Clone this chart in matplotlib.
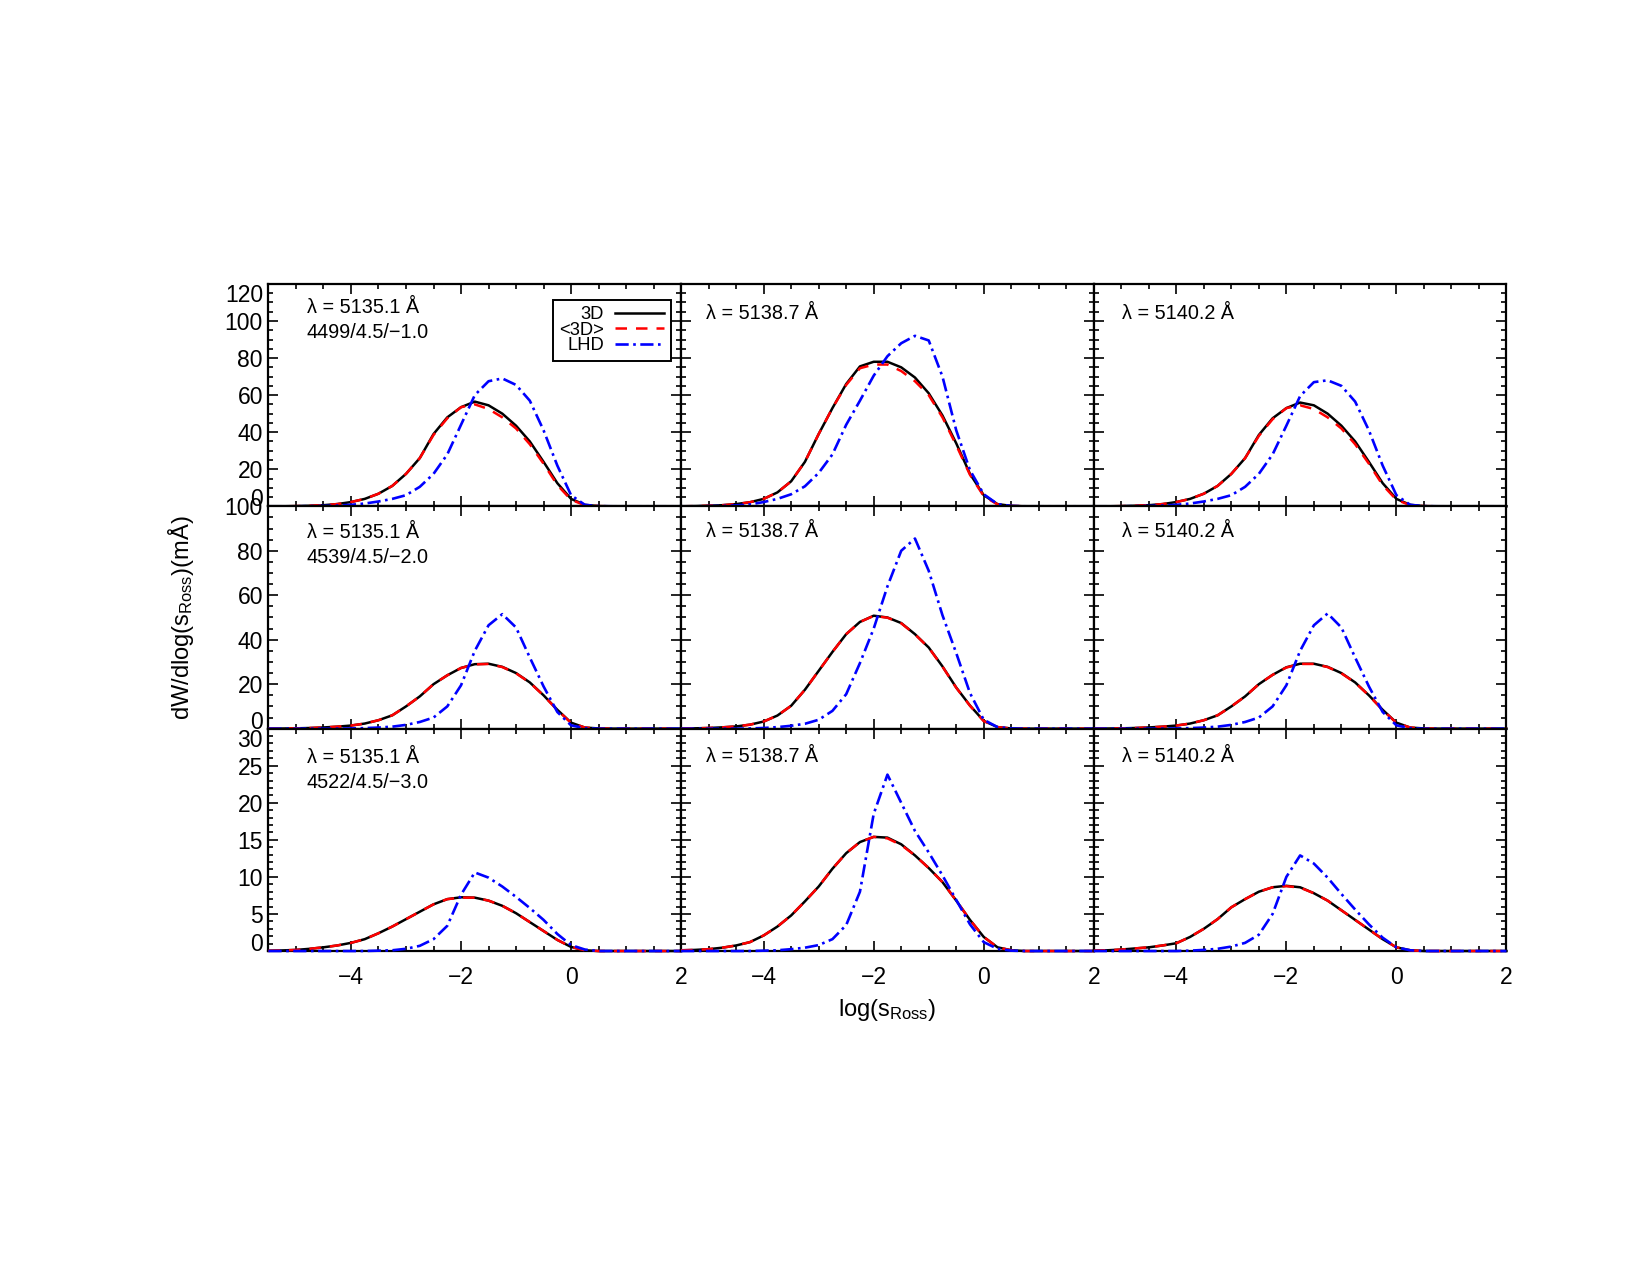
import numpy as np
import matplotlib
matplotlib.use("Agg")
import matplotlib.pyplot as plt
from matplotlib.ticker import MultipleLocator

# x grid: log(tau_Ross), sampled every 0.25
log_tau = np.linspace(-5.5, 2.0, 31)

# ---- row 1 : 4499/4.5/-1.0 ----
d3_r0c0 = [0, 0, 0.1, 0.3, 0.6, 1.2, 2.3, 4.0, 6.8, 11.0, 17.5, 26.0, 39.0, 48.0, 53.5, 56.5,
           54.5, 50.0, 43.5, 35.0, 24.0, 12.5, 4.0, 0.8, 0.1, 0, 0, 0, 0, 0, 0]
avg_r0c0 = [0, 0, 0.1, 0.3, 0.6, 1.2, 2.3, 4.0, 6.8, 11.0, 17.5, 26.0, 38.5, 47.5, 53.5, 55.0,
            52.5, 48.0, 42.0, 33.5, 23.0, 11.5, 3.5, 0.6, 0.1, 0, 0, 0, 0, 0, 0]
lhd_r0c0 = [0, 0, 0, 0.1, 0.2, 0.4, 0.8, 1.5, 2.6, 4.0, 6.0, 10.5, 17.5, 28.0, 44.0, 60.0,
            67.5, 69.0, 65.5, 57.0, 41.0, 22.0, 6.0, 0.8, 0.1, 0, 0, 0, 0, 0, 0]

d3_r0c1 = [0, 0.1, 0.3, 0.6, 1.2, 2.2, 4.0, 7.5, 13.5, 24.0, 39.0, 53.0, 66.0, 75.5, 78.0, 78.0,
           75.0, 69.5, 61.0, 49.0, 34.0, 17.5, 6.0, 1.2, 0.2, 0, 0, 0, 0, 0, 0]
avg_r0c1 = [0, 0.1, 0.3, 0.6, 1.2, 2.2, 4.0, 7.5, 13.5, 24.0, 39.0, 53.0, 65.5, 74.5, 76.5, 76.5,
            73.0, 67.5, 60.0, 48.0, 33.0, 17.0, 5.5, 1.0, 0.2, 0, 0, 0, 0, 0, 0]
lhd_r0c1 = [0, 0, 0.1, 0.2, 0.5, 1.0, 2.3, 4.0, 6.5, 10.8, 18.0, 28.0, 44.0, 57.0, 70.5, 81.0,
            88.0, 92.0, 89.5, 70.0, 41.0, 19.5, 6.5, 1.2, 0.2, 0, 0, 0, 0, 0, 0]

d3_r0c2 = [0, 0, 0.1, 0.3, 0.6, 1.2, 2.3, 4.0, 6.8, 11.0, 17.5, 26.0, 38.5, 47.5, 53.0, 56.0,
           54.5, 50.0, 43.5, 35.0, 24.0, 12.5, 4.0, 0.8, 0.1, 0, 0, 0, 0, 0, 0]
avg_r0c2 = [0, 0, 0.1, 0.3, 0.6, 1.2, 2.3, 4.0, 6.8, 11.0, 17.5, 26.0, 38.0, 47.0, 53.0, 54.5,
            52.5, 48.0, 42.0, 33.5, 23.0, 11.5, 3.5, 0.6, 0.1, 0, 0, 0, 0, 0, 0]
lhd_r0c2 = [0, 0, 0, 0.1, 0.2, 0.4, 0.8, 1.5, 2.6, 4.0, 6.0, 10.5, 17.5, 28.0, 43.5, 59.5,
            67.0, 68.0, 65.0, 56.5, 41.0, 22.0, 6.0, 0.8, 0.1, 0, 0, 0, 0, 0, 0]

# ---- row 2 : 4539/4.5/-2.0 ----
d3_r1c0 = [0, 0.05, 0.15, 0.3, 0.55, 0.9, 1.4, 2.3, 3.8, 6.0, 10.0, 14.5, 20.0, 24.0, 27.3, 29.0,
           29.2, 27.8, 25.0, 20.8, 15.0, 8.5, 2.7, 0.5, 0.1, 0, 0, 0, 0, 0, 0]
avg_r1c0 = [0, 0.05, 0.15, 0.3, 0.55, 0.9, 1.4, 2.3, 3.8, 6.0, 10.0, 14.5, 20.0, 24.0, 27.3, 28.9,
            29.1, 27.7, 24.9, 20.7, 14.9, 8.4, 2.6, 0.5, 0.1, 0, 0, 0, 0, 0, 0]
lhd_r1c0 = [0, 0, 0, 0, 0, 0.05, 0.1, 0.25, 0.5, 0.9, 1.7, 3.0, 5.0, 10.0, 19.5, 35.0,
            46.5, 51.5, 45.5, 32.0, 19.0, 7.5, 1.5, 0.2, 0, 0, 0, 0, 0, 0, 0]

d3_r1c1 = [0.05, 0.15, 0.3, 0.6, 1.0, 1.8, 3.2, 5.9, 10.3, 17.5, 26.0, 34.5, 42.5, 48.0, 50.8, 50.0,
           47.5, 42.5, 36.5, 28.0, 18.5, 10.4, 3.5, 0.7, 0.1, 0, 0, 0, 0, 0, 0]
avg_r1c1 = [0.05, 0.15, 0.3, 0.6, 1.0, 1.8, 3.2, 5.9, 10.3, 17.5, 26.0, 34.5, 42.5, 48.0, 50.7, 49.9,
            47.4, 42.4, 36.4, 27.9, 18.4, 10.3, 3.4, 0.7, 0.1, 0, 0, 0, 0, 0, 0]
lhd_r1c1 = [0, 0, 0, 0, 0, 0.1, 0.3, 0.7, 1.3, 2.2, 4.0, 8.0, 15.5, 29.5, 45.0, 64.0,
            80.0, 85.5, 71.0, 51.0, 34.0, 16.0, 4.0, 0.7, 0.1, 0, 0, 0, 0, 0, 0]

d3_r1c2 = [0, 0.05, 0.15, 0.3, 0.55, 0.9, 1.4, 2.3, 3.8, 6.0, 10.0, 14.5, 20.0, 24.2, 27.6, 29.2,
           29.2, 27.8, 25.0, 20.8, 15.0, 8.5, 2.7, 0.5, 0.1, 0, 0, 0, 0, 0, 0]
avg_r1c2 = [0, 0.05, 0.15, 0.3, 0.55, 0.9, 1.4, 2.3, 3.8, 6.0, 10.0, 14.5, 20.0, 24.2, 27.5, 29.1,
            29.1, 27.7, 24.9, 20.7, 14.9, 8.4, 2.6, 0.5, 0.1, 0, 0, 0, 0, 0, 0]
lhd_r1c2 = [0, 0, 0, 0, 0, 0.05, 0.1, 0.25, 0.5, 0.9, 1.7, 3.0, 5.0, 10.0, 19.5, 35.0,
            46.5, 51.8, 45.5, 32.0, 19.0, 7.5, 1.5, 0.2, 0, 0, 0, 0, 0, 0, 0]

# ---- row 3 : 4522/4.5/-3.0 ----
d3_r2c0 = [0.03, 0.08, 0.15, 0.3, 0.5, 0.75, 1.1, 1.6, 2.4, 3.3, 4.3, 5.3, 6.3, 7.0, 7.25, 7.2,
           6.8, 6.1, 5.1, 3.9, 2.7, 1.5, 0.55, 0.1, 0, 0, 0, 0, 0, 0, 0]
avg_r2c0 = [0.03, 0.08, 0.15, 0.3, 0.5, 0.75, 1.1, 1.6, 2.4, 3.3, 4.3, 5.3, 6.3, 7.0, 7.2, 7.2,
            6.8, 6.1, 5.1, 3.9, 2.7, 1.5, 0.55, 0.1, 0, 0, 0, 0, 0, 0, 0]
lhd_r2c0 = [0, 0, 0, 0, 0, 0, 0, 0, 0.05, 0.1, 0.3, 0.7, 1.6, 3.4, 7.6, 10.6,
            9.9, 8.7, 7.3, 5.8, 4.2, 2.3, 0.8, 0.2, 0, 0, 0, 0, 0, 0, 0]

d3_r2c1 = [0.1, 0.15, 0.25, 0.45, 0.75, 1.2, 2.1, 3.3, 4.8, 6.7, 8.7, 11.1, 13.2, 14.7, 15.4, 15.3,
           14.4, 12.9, 11.2, 9.3, 6.8, 4.2, 1.9, 0.5, 0.1, 0, 0, 0, 0, 0, 0]
avg_r2c1 = [0.1, 0.15, 0.25, 0.45, 0.75, 1.2, 2.1, 3.3, 4.8, 6.7, 8.7, 11.1, 13.2, 14.7, 15.4, 15.2,
            14.3, 12.9, 11.2, 9.3, 6.8, 4.2, 1.9, 0.5, 0.1, 0, 0, 0, 0, 0, 0]
lhd_r2c1 = [0, 0, 0, 0, 0, 0, 0.05, 0.1, 0.25, 0.45, 0.8, 1.6, 3.5, 8.0, 18.5, 23.8,
            20.0, 16.2, 13.3, 10.2, 6.9, 3.6, 1.2, 0.3, 0.05, 0, 0, 0, 0, 0, 0]

d3_r2c2 = [0.05, 0.1, 0.2, 0.35, 0.5, 0.75, 1.05, 1.9, 3.0, 4.3, 5.9, 7.0, 8.0, 8.6, 8.8, 8.6,
           7.8, 6.8, 5.5, 4.2, 2.9, 1.6, 0.5, 0.1, 0, 0, 0, 0, 0, 0, 0]
avg_r2c2 = [0.05, 0.1, 0.2, 0.35, 0.5, 0.75, 1.05, 1.9, 3.0, 4.3, 5.9, 7.0, 8.0, 8.6, 8.75, 8.55,
            7.8, 6.8, 5.5, 4.2, 2.9, 1.6, 0.5, 0.1, 0, 0, 0, 0, 0, 0, 0]
lhd_r2c2 = [0, 0, 0, 0, 0, 0, 0, 0.05, 0.15, 0.3, 0.6, 1.1, 2.2, 5.0, 10.0, 12.9,
            11.8, 9.9, 7.7, 5.6, 3.6, 1.8, 0.5, 0.1, 0, 0, 0, 0, 0, 0, 0]

# labels / ticks
wavelengths = ["λ = 5135.1 Å", "λ = 5138.7 Å", "λ = 5140.2 Å"]
models = ["4499/4.5/−1.0", "4539/4.5/−2.0", "4522/4.5/−3.0"]
series_names = ["3D", "<3D>", "LHD"]
x_ticks = [-4, -2, 0, 2]
y_max = [120, 100, 30]
y_major = [20, 20, 5]
y_minor = [5, 5, 1]

panels = [
    [(d3_r0c0, avg_r0c0, lhd_r0c0), (d3_r0c1, avg_r0c1, lhd_r0c1), (d3_r0c2, avg_r0c2, lhd_r0c2)],
    [(d3_r1c0, avg_r1c0, lhd_r1c0), (d3_r1c1, avg_r1c1, lhd_r1c1), (d3_r1c2, avg_r1c2, lhd_r1c2)],
    [(d3_r2c0, avg_r2c0, lhd_r2c0), (d3_r2c1, avg_r2c1, lhd_r2c1), (d3_r2c2, avg_r2c2, lhd_r2c2)],
]

plt.rcParams["font.family"] = ["Liberation Sans", "DejaVu Sans"]
plt.rcParams["mathtext.fontset"] = "custom"
plt.rcParams["mathtext.rm"] = "Liberation Sans"
plt.rcParams["mathtext.it"] = "Liberation Sans:italic"
plt.rcParams["mathtext.bf"] = "Liberation Sans:bold"

fig, axs = plt.subplots(3, 3, figsize=(16.5, 12.75), dpi=100, sharex=True)
fig.subplots_adjust(left=0.1627, right=0.9130, top=0.7773, bottom=0.2541,
                    wspace=0, hspace=0)

# text positions (axes fraction)
lam_x = [0.093, 0.060, 0.068]
lam_y_left = [0.895, 0.883, 0.870]
mod_y_left = [0.783, 0.771, 0.758]
lam_y_other = [0.865, 0.885, 0.875]

for r in range(3):
    for c in range(3):
        ax = axs[r, c]
        d3, avg, lhd = panels[r][c]
        ax.plot(log_tau, d3, color="black", lw=1.8, zorder=3, clip_on=False,
                solid_joinstyle="round", label=series_names[0])
        ax.plot(log_tau, avg, color="red", lw=1.8, dashes=(4.6, 3.6), zorder=3.1,
                clip_on=False, label=series_names[1])
        ax.plot(log_tau, lhd, color="blue", lw=1.9, dashes=(5.0, 1.7, 1.0, 1.7),
                zorder=3.2, clip_on=False, label=series_names[2])

        ax.set_xlim(-5.5, 2.0)
        ax.set_ylim(0, y_max[r])
        ax.set_xticks(x_ticks)
        ax.xaxis.set_minor_locator(MultipleLocator(0.5))
        ax.yaxis.set_major_locator(MultipleLocator(y_major[r]))
        ax.yaxis.set_minor_locator(MultipleLocator(y_minor[r]))

        for sp in ax.spines.values():
            sp.set_linewidth(1.6)

        ax.tick_params(which="both", direction="in", top=True, right=True,
                       width=1.2, labelsize=16.5)
        ax.tick_params(which="major", length=7)
        ax.tick_params(which="minor", length=3.8)
        ax.tick_params(axis="y", pad=4)
        ax.tick_params(axis="x", pad=11)
        ax.tick_params(labelleft=(c == 0), labelbottom=(r == 2))

        if c == 0:
            ax.text(lam_x[c], lam_y_left[r], wavelengths[c], transform=ax.transAxes,
                    fontsize=14.3, ha="left", va="center")
            ax.text(lam_x[c], mod_y_left[r], models[r], transform=ax.transAxes,
                    fontsize=14.3, ha="left", va="center")
        else:
            ax.text(lam_x[c], lam_y_other[r], wavelengths[c], transform=ax.transAxes,
                    fontsize=14.3, ha="left", va="center")

# IDL-like placement of the end labels of the y axes
for r in range(3):
    ax = axs[r, 0]
    ax.set_yticks(np.arange(0, y_max[r] + 0.1, y_major[r]))
    labels = ax.get_yticklabels()
    labels[0].set_verticalalignment("baseline")
    if r != 1:
        labels[-1].set_verticalalignment("top")

leg = axs[0, 0].legend(loc="upper right", bbox_to_anchor=(0.975, 0.928), borderaxespad=0,
                       markerfirst=False, fontsize=13.2, frameon=True, fancybox=False,
                       edgecolor="black", framealpha=1, handlelength=2.7,
                       handletextpad=0.6, labelspacing=-0.08, borderpad=0.35)
leg.get_frame().set_linewidth(1.4)

axs[1, 0].set_ylabel("dW/dlog(s$_{\\rm Ross}$)(mÅ)", fontsize=17)
axs[1, 0].yaxis.set_label_coords(-0.176, 0.5)
axs[2, 1].set_xlabel("log(s$_{\\rm Ross}$)", fontsize=17)
axs[2, 1].xaxis.set_label_coords(0.5, -0.205)

fig.savefig("out.png", dpi=100)
